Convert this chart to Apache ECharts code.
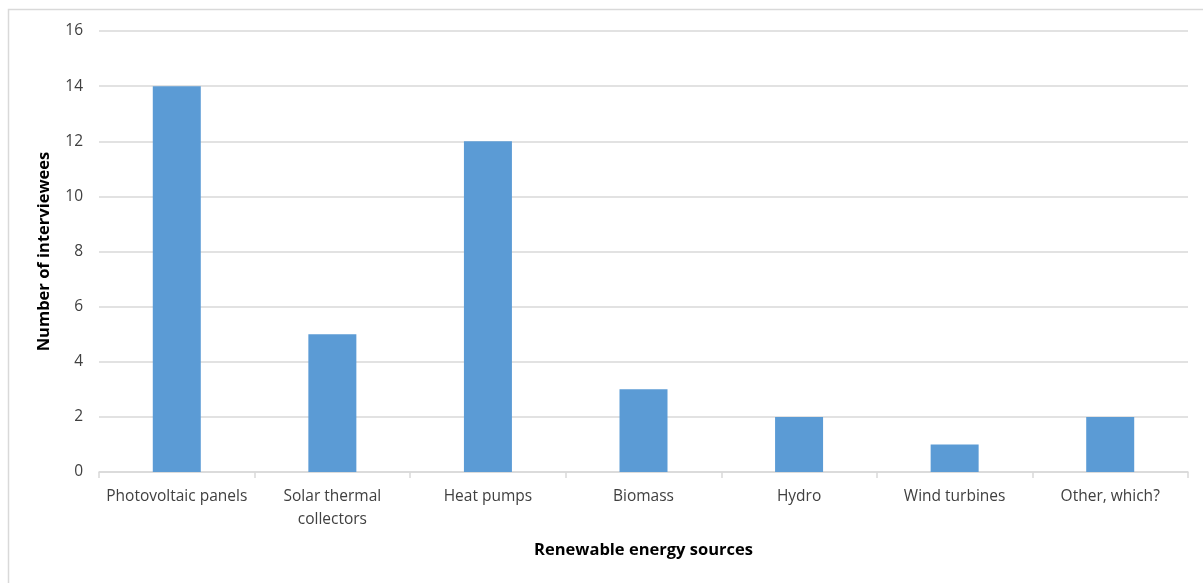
<!DOCTYPE html>
<html>
<head>
<meta charset="utf-8">
<script src="https://cdn.jsdelivr.net/npm/echarts@6/dist/echarts.min.js"></script>
<style>
  html, body { margin: 0; padding: 0; background: #fff; }
  #chart { width: 1203px; height: 583px; }
</style>
</head>
<body>
<div id="chart"></div>
<script>
// Renewable energy sources named by interviewees
const categories = ['Photovoltaic panels', 'Solar thermal collectors', 'Heat pumps', 'Biomass', 'Hydro', 'Wind turbines', 'Other, which?'];
const interviewees = [14, 5, 12, 3, 2, 1, 2];
const yTicks = { min: 0, max: 16, interval: 2 };

const textColor = '#404040';
const fontFamily = '"Open Sans", "Liberation Sans", sans-serif';

const chart = echarts.init(document.getElementById('chart'), null, { renderer: 'canvas' });
chart.setOption({
  animation: false,
  backgroundColor: '#fff',
  graphic: [{
    type: 'rect',
    shape: { x: 8.5, y: 9.5, width: 1200, height: 580 },
    style: { fill: 'none', stroke: '#d9d9d9', lineWidth: 1.5 },
    silent: true
  }],
  grid: { left: 99, right: 15, top: 31, bottom: 111, containLabel: false },
  xAxis: {
    type: 'category',
    data: categories,
    name: 'Renewable energy sources',
    nameLocation: 'middle',
    nameGap: 70,
    nameTextStyle: { color: '#000', fontWeight: 'bold', fontSize: 16.5, fontFamily },
    axisLine: { lineStyle: { color: '#d9d9d9', width: 1.5 } },
    axisTick: { show: true, alignWithLabel: false, length: 6, lineStyle: { color: '#d9d9d9', width: 1.5 } },
    axisLabel: {
      color: textColor, fontSize: 15.5, fontFamily, margin: 13, lineHeight: 23, interval: 0,
      formatter: v => v === 'Solar thermal collectors' ? 'Solar thermal\ncollectors' : v
    }
  },
  yAxis: {
    type: 'value',
    min: yTicks.min, max: yTicks.max, interval: yTicks.interval,
    name: 'Number of interviewees',
    nameLocation: 'middle',
    nameGap: 46,
    nameTextStyle: { color: '#000', fontWeight: 'bold', fontSize: 16.5, fontFamily },
    axisLine: { show: false },
    axisTick: { show: false },
    axisLabel: { color: textColor, fontSize: 15.5, fontFamily, margin: 16 },
    splitLine: { lineStyle: { color: '#d9d9d9', width: 1.5 } }
  },
  series: [{
    type: 'bar',
    data: interviewees,
    barWidth: 48,
    itemStyle: { color: '#5B9BD5' }
  }]
});
</script>
</body>
</html>
